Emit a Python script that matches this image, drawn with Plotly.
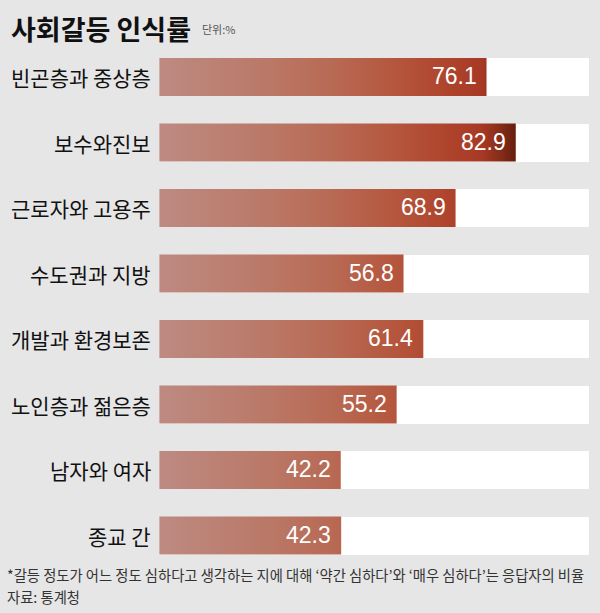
import plotly.graph_objects as go

categories = ["빈곤층과 중상층", "보수와진보", "근로자와 고용주", "수도권과 지방",
              "개발과 환경보존", "노인층과 젊은층", "남자와 여자", "종교 간"]
values = [76.1, 82.9, 68.9, 56.8, 61.4, 55.2, 42.2, 42.3]
track_max = 100

title_text = "사회갈등 인식률"
unit_text = "단위:%"
note_text = "*갈등 정도가 어느 정도 심하다고 생각하는 지에 대해 ‘약간 심하다’와 ‘매우 심하다’는 응답자의 비율"
source_text = "자료: 통계청"

BG = "#e6e6e7"
KR = "Noto Sans CJK KR"
NUM = "Liberation Sans Narrow, Arial Narrow, Liberation Sans, sans-serif"

colorscale = [[0.0, "#bd8a82"], [0.31, "#ba7866"], [0.48, "#b86a55"],
              [0.645, "#b5583f"], [0.78, "#b0472f"], [0.9, "#a83a25"],
              [0.95, "#8a2e1a"], [1.0, "#641e0e"]]

half = 0.29
fig = go.Figure()

ypos = list(range(len(categories)))
fig.add_trace(go.Bar(
    x=[track_max] * len(categories), y=ypos, orientation="h",
    width=2 * half, marker=dict(color="white", line=dict(width=0)),
    hoverinfo="skip", showlegend=False))

for i, v in enumerate(values):
    fig.add_trace(go.Scatter(
        x=[0, v, v, 0, 0], y=[i - half, i - half, i + half, i + half, i - half],
        mode="lines", line=dict(width=0), fill="toself",
        fillgradient=dict(type="horizontal", colorscale=colorscale, start=0, stop=83),
        hoverinfo="skip", showlegend=False))
    fig.add_annotation(x=v, y=i, xref="x", yref="y", text=f"{v:.1f}",
                       xanchor="right", yanchor="middle", xshift=-8, yshift=1, showarrow=False,
                       font=dict(family=NUM, size=23, color="white"))
    fig.add_annotation(x=153 / 600, y=i, xref="paper", yref="y", text=categories[i],
                       xanchor="right", yanchor="middle", showarrow=False,
                       font=dict(family=KR, size=21, color="#111111"))

fig.add_annotation(x=9 / 600, y=1 - 28 / 613, xref="paper", yref="paper", text=title_text,
                   xanchor="left", yanchor="middle", showarrow=False,
                   font=dict(family=KR, size=27, color="#111111", weight="bold"))
fig.add_annotation(x=200 / 600, y=1 - 29 / 613, xref="paper", yref="paper", text=unit_text,
                   xanchor="left", yanchor="middle", showarrow=False,
                   font=dict(family=KR, size=11, color="#555555"))
fig.add_annotation(x=5 / 600, y=1 - 574 / 613, xref="paper", yref="paper", text=note_text,
                   xanchor="left", yanchor="middle", showarrow=False,
                   font=dict(family=KR, size=14.3, color="#333333"))
fig.add_annotation(x=5 / 600, y=1 - 596 / 613, xref="paper", yref="paper", text=source_text,
                   xanchor="left", yanchor="middle", showarrow=False,
                   font=dict(family=KR, size=14.3, color="#333333"))

px_per = 4.3
x0 = 159.3
y0 = 77.0
dy = 65.5
fig.update_layout(
    width=600, height=613, margin=dict(l=0, r=0, t=0, b=0),
    paper_bgcolor=BG, plot_bgcolor=BG,
    xaxis=dict(range=[-x0 / px_per, (600 - x0) / px_per], visible=False, fixedrange=True),
    yaxis=dict(range=[(613 - y0) / dy, -y0 / dy], visible=False, fixedrange=True),
    bargap=0,
)
fig.write_html("out.html", config={"displayModeBar": False},
               post_script="document.body.style.margin='0';document.body.style.overflow='hidden';"
                           "document.body.style.background='" + BG + "';")
